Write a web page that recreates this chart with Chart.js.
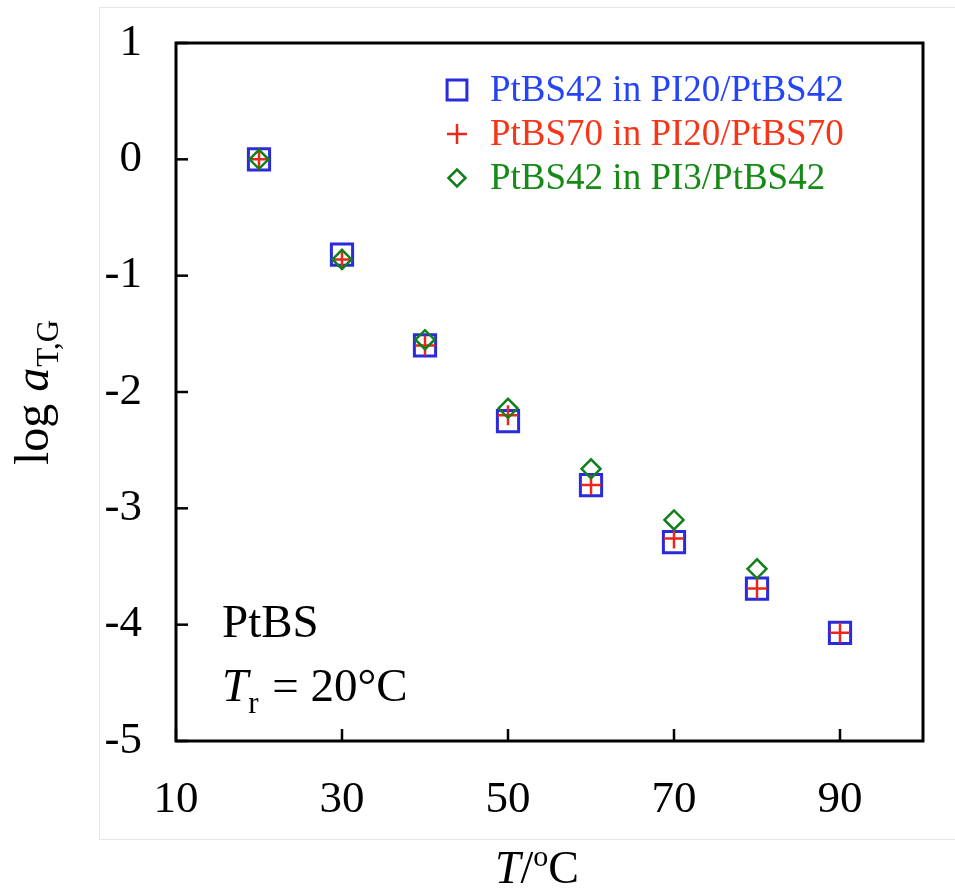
<!DOCTYPE html>
<html>
<head>
<meta charset="utf-8">
<script src="https://cdn.jsdelivr.net/npm/chart.js@4.4.1/dist/chart.umd.min.js"></script>
<style>
  html, body { margin: 0; padding: 0; background: #fff; }
  #wrap { width: 955px; height: 890px; }
</style>
</head>
<body>
<div id="wrap"><canvas id="shiftChart" width="955" height="890"></canvas></div>
<script>
// shift factors
const temps = [20, 30, 40, 50, 60, 70, 80, 90];
const pi20Bs42 = [0, -0.82, -1.60, -2.25, -2.80, -3.29, -3.69, -4.07];
const pi20Bs70 = [0, -0.86, -1.60, -2.20, -2.80, -3.26, -3.69, -4.07];
const pi3Temps = [20, 30, 40, 50, 60, 70, 80];
const pi3Bs42 = [0, -0.86, -1.55, -2.14, -2.66, -3.10, -3.52];

const seriesLabels = ['PtBS42 in PI20/PtBS42', 'PtBS70 in PI20/PtBS70', 'PtBS42 in PI3/PtBS42'];
const xTicks = [10, 30, 50, 70, 90];
const yTicks = [1, 0, -1, -2, -3, -4, -5];

const SERIF = '"Liberation Serif", "DejaVu Serif", serif';
const blue = '#2b2bdc', red = '#e8281c', green = '#11801a';
const textColors = ['#2544f5', '#f5361a', '#168a16'];
const legendRadius = [14, 10, 8.5];

function toPoints(xs, ys) {
  return xs.map((x, i) => ({ x: x, y: ys[i] }));
}

const decor = {
  id: 'decor',
  beforeDraw(chart) {
    const c = chart.ctx;
    c.save();
    c.strokeStyle = '#e6e6e6';
    c.lineWidth = 1;
    c.strokeRect(99.5, 7.5, 900, 832);
    c.restore();
  },
  afterDraw(chart) {
    const c = chart.ctx;
    const a = chart.chartArea;
    const xs = chart.scales.x, ys = chart.scales.y;
    c.save();

    // ticks pointing inward
    c.strokeStyle = '#000';
    c.lineWidth = 2.5;
    xTicks.forEach(v => {
      const px = xs.getPixelForValue(v);
      c.beginPath(); c.moveTo(px, a.bottom); c.lineTo(px, a.bottom - 12); c.stroke();
    });
    yTicks.forEach(v => {
      const py = ys.getPixelForValue(v);
      c.beginPath(); c.moveTo(a.left, py); c.lineTo(a.left + 12, py); c.stroke();
    });

    // frame
    c.lineWidth = 3;
    c.strokeRect(a.left, a.top, a.right - a.left, a.bottom - a.top);

    // legend
    chart.data.datasets.forEach((ds, i) => {
      const y = a.top + 47 + i * 44;
      c.strokeStyle = ds.borderColor;
      c.fillStyle = 'rgba(0,0,0,0)';
      c.lineWidth = ds.borderWidth;
      Chart.helpers.drawPoint(c, {
        pointStyle: ds.pointStyle, rotation: 0,
        radius: legendRadius[i], borderWidth: ds.borderWidth
      }, a.left + 281, y);
      c.fillStyle = textColors[i];
      c.font = '37px ' + SERIF;
      c.textBaseline = 'middle';
      c.textAlign = 'left';
      c.fillText(ds.label, a.left + 314, y + 1);
    });

    // annotation
    c.fillStyle = '#000';
    c.textBaseline = 'alphabetic';
    c.font = '47px ' + SERIF;
    c.fillText('PtBS', 222, 637);
    let x = 222;
    c.font = 'italic 47px ' + SERIF;
    c.fillText('T', x, 701);
    x += c.measureText('T').width;
    c.font = '31px ' + SERIF;
    c.fillText('r', x, 713);
    x += c.measureText('r').width + 2;
    c.font = '47px ' + SERIF;
    c.fillText(' = 20°C', x, 701);

    // x title
    c.font = 'italic 46px ' + SERIF;
    const wT = c.measureText('T').width;
    c.font = '46px ' + SERIF;
    const wS = c.measureText('/').width, wC = c.measureText('C').width;
    c.font = '30px ' + SERIF;
    const wO = c.measureText('o').width;
    let tx = 537 - (wT + wS + wO + wC) / 2;
    c.font = 'italic 46px ' + SERIF; c.fillText('T', tx, 883); tx += wT;
    c.font = '46px ' + SERIF; c.fillText('/', tx, 883); tx += wS;
    c.font = '30px ' + SERIF; c.fillText('o', tx, 866); tx += wO;
    c.font = '46px ' + SERIF; c.fillText('C', tx, 883);

    // y title, rotated
    c.translate(48, 393);
    c.rotate(-Math.PI / 2);
    c.font = '48px ' + SERIF;
    const wLog = c.measureText('log ').width;
    c.font = 'italic 48px ' + SERIF;
    const wA = c.measureText('a').width;
    c.font = '31px ' + SERIF;
    const wSub = c.measureText('T,G').width;
    let ty = -(wLog + wA + wSub) / 2;
    c.font = '48px ' + SERIF; c.fillText('log ', ty, 0); ty += wLog;
    c.font = 'italic 48px ' + SERIF; c.fillText('a', ty, 0); ty += wA + 1;
    c.font = '31px ' + SERIF; c.fillText('T,G', ty, 10);

    c.restore();
  }
};

new Chart(document.getElementById('shiftChart'), {
  type: 'scatter',
  data: {
    datasets: [
      {
        label: seriesLabels[0],
        data: toPoints(temps, pi20Bs42),
        pointStyle: 'rect', pointRadius: 15, borderColor: blue,
        backgroundColor: 'rgba(0,0,0,0)', borderWidth: 3, order: 3
      },
      {
        label: seriesLabels[1],
        data: toPoints(temps, pi20Bs70),
        pointStyle: 'cross', pointRadius: 10, borderColor: red,
        backgroundColor: red, borderWidth: 2.5, order: 2
      },
      {
        label: seriesLabels[2],
        data: toPoints(pi3Temps, pi3Bs42),
        pointStyle: 'rectRot', pointRadius: 9.5, borderColor: green,
        backgroundColor: 'rgba(0,0,0,0)', borderWidth: 2.5, order: 1
      }
    ]
  },
  options: {
    responsive: false,
    devicePixelRatio: 1,
    animation: false,
    layout: { padding: { top: 43, right: 32, left: 0, bottom: 0 } },
    plugins: { legend: { display: false }, tooltip: { enabled: false } },
    scales: {
      x: {
        type: 'linear', min: 10, max: 100,
        afterBuildTicks: s => { s.ticks = xTicks.map(v => ({ value: v })); },
        afterFit: s => { s.height = 149; s.paddingLeft = 0; s.paddingRight = 0; },
        grid: { display: false },
        border: { display: false },
        ticks: { color: '#000', padding: 24, font: { family: SERIF, size: 45 } }
      },
      y: {
        type: 'linear', min: -5, max: 1,
        afterBuildTicks: s => { s.ticks = yTicks.map(v => ({ value: v })); },
        afterFit: s => { s.width = 176; s.paddingTop = 0; s.paddingBottom = 0; },
        grid: { display: false },
        border: { display: false },
        ticks: { color: '#000', padding: 26, font: { family: SERIF, size: 45 } }
      }
    }
  },
  plugins: [decor]
});
</script>
</body>
</html>
